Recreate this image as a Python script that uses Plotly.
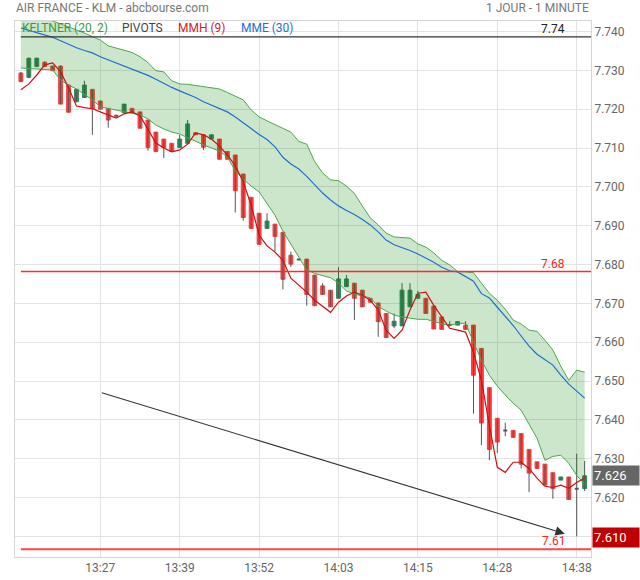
import plotly.graph_objects as go

# ---------------- data ----------------
times = ["13:17","13:18","13:19","13:20","13:21","13:22","13:23","13:24","13:25","13:26",
         "13:27","13:28","13:29","13:30","13:32","13:33","13:34","13:35","13:37","13:38",
         "13:39","13:40","13:41","13:43","13:44","13:45","13:47","13:48","13:50","13:51",
         "13:52","13:53","13:54","13:55","13:56","13:57","13:58","13:59","14:01","14:02",
         "14:03","14:04","14:05","14:06","14:08","14:09","14:10","14:11","14:13","14:14",
         "14:15","14:16","14:17","14:19","14:20","14:21","14:23","14:24","14:26","14:27",
         "14:28","14:29","14:30","14:31","14:32","14:33","14:34","14:35","14:36","14:37",
         "14:38","14:39"]

opens = [7.7293,7.7282,7.7310,7.7321,7.7311,7.7311,7.7262,7.7219,7.7230,7.7251,
         7.7221,7.7202,7.7183,7.7191,7.7202,7.7193,7.7172,7.7141,7.7123,7.7112,
         7.7101,7.7112,7.7139,7.7134,7.7123,7.7123,7.7091,7.7082,7.7033,7.6973,
         7.6932,7.6893,7.6904,7.6883,7.6824,7.6813,7.6814,7.6773,7.6745,7.6734,
         7.6713,7.6743,7.6752,7.6734,7.6713,7.6701,7.6674,7.6642,7.6642,7.6691,
         7.6713,7.6713,7.6693,7.6665,7.6644,7.6644,7.6644,7.6644,7.6584,7.6483,
         7.6404,7.6373,7.6373,7.6365,7.6324,7.6292,7.6286,7.6264,7.6245,7.6253,
         7.6223,7.6223]
highs = [7.7296,7.7333,7.7333,7.7323,7.7312,7.7312,7.7263,7.7251,7.7273,7.7251,
         7.7221,7.7202,7.7183,7.7213,7.7202,7.7193,7.7172,7.7141,7.7123,7.7112,
         7.7134,7.7172,7.7139,7.7134,7.7134,7.7123,7.7091,7.7082,7.7033,7.6973,
         7.6932,7.6932,7.6904,7.6883,7.6833,7.6813,7.6814,7.6773,7.6752,7.6734,
         7.6793,7.6773,7.6752,7.6734,7.6713,7.6701,7.6674,7.6674,7.6752,7.6752,
         7.6732,7.6713,7.6693,7.6665,7.6654,7.6653,7.6654,7.6644,7.6584,7.6483,
         7.6404,7.6393,7.6373,7.6365,7.6324,7.6292,7.6286,7.6264,7.6253,7.6253,
         7.6313,7.6294]
lows = [7.7270,7.7280,7.7308,7.7310,7.7299,7.7213,7.7192,7.7219,7.7230,7.7134,
        7.7200,7.7152,7.7183,7.7191,7.7191,7.7151,7.7093,7.7091,7.7074,7.7091,
        7.7101,7.7112,7.7134,7.7095,7.7123,7.7071,7.7071,7.6934,7.6913,7.6893,
        7.6852,7.6893,7.6833,7.6736,7.6794,7.6813,7.6694,7.6694,7.6723,7.6691,
        7.6713,7.6743,7.6657,7.6691,7.6703,7.6614,7.6612,7.6636,7.6642,7.6691,
        7.6713,7.6674,7.6634,7.6633,7.6640,7.6644,7.6633,7.6416,7.6335,7.6296,
        7.6315,7.6358,7.6355,7.6275,7.6214,7.6275,7.6232,7.6197,7.6245,7.6195,
        7.6100,7.6217]
closes = [7.7271,7.7331,7.7331,7.7310,7.7299,7.7213,7.7192,7.7251,7.7262,7.7201,
          7.7200,7.7172,7.7183,7.7213,7.7191,7.7151,7.7101,7.7091,7.7101,7.7091,
          7.7123,7.7162,7.7134,7.7102,7.7134,7.7071,7.7071,7.6990,7.6921,7.6893,
          7.6852,7.6912,7.6872,7.6762,7.6801,7.6813,7.6723,7.6694,7.6723,7.6691,
          7.6763,7.6763,7.6713,7.6691,7.6703,7.6653,7.6612,7.6654,7.6734,7.6734,
          7.6723,7.6674,7.6634,7.6633,7.6644,7.6653,7.6633,7.6515,7.6392,7.6324,
          7.6343,7.6373,7.6355,7.6286,7.6263,7.6275,7.6232,7.6223,7.6253,7.6195,
          7.6223,7.6256]

keltner_up = [7.7458,7.7451,7.7443,7.7435,7.7427,7.7420,7.7412,7.7404,7.7396,7.7387,
              7.7378,7.7363,7.7357,7.7353,7.7346,7.7335,7.7320,7.7299,7.7296,7.7273,
              7.7265,7.7264,7.7261,7.7259,7.7255,7.7252,7.7243,7.7233,7.7224,7.7198,
              7.7180,7.7170,7.7161,7.7152,7.7141,7.7117,7.7110,7.7065,7.7036,7.7018,
              7.7016,7.7002,7.6983,7.6951,7.6920,7.6902,7.6881,7.6871,7.6869,7.6868,
              7.6853,7.6845,7.6830,7.6811,7.6799,7.6782,7.6781,7.6779,7.6752,7.6726,
              7.6708,7.6685,7.6657,7.6647,7.6631,7.6628,7.6605,7.6580,7.6538,7.6502,
              7.6528,7.6523]
keltner_low = [7.7306,7.7305,7.7304,7.7302,7.7301,7.7275,7.7262,7.7252,7.7237,7.7224,
               7.7206,7.7202,7.7198,7.7194,7.7190,7.7185,7.7175,7.7159,7.7149,7.7141,
               7.7136,7.7126,7.7116,7.7108,7.7100,7.7092,7.7077,7.7041,7.7020,7.7002,
               7.6987,7.6956,7.6927,7.6886,7.6853,7.6822,7.6786,7.6777,7.6772,7.6766,
               7.6752,7.6732,7.6724,7.6719,7.6714,7.6693,7.6680,7.6670,7.6665,7.6662,
               7.6659,7.6659,7.6654,7.6647,7.6644,7.6648,7.6649,7.6600,7.6554,7.6515,
               7.6487,7.6464,7.6443,7.6425,7.6389,7.6353,7.6296,7.6306,7.6309,7.6288,
               7.6257,7.6234]
mme30 = [7.7409,7.7403,7.7396,7.7391,7.7385,7.7376,7.7366,7.7358,7.7351,7.7345,
         7.7335,7.7327,7.7319,7.7311,7.7304,7.7296,7.7287,7.7277,7.7266,7.7256,
         7.7247,7.7239,7.7230,7.7219,7.7211,7.7203,7.7193,7.7180,7.7166,7.7150,
         7.7135,7.7122,7.7103,7.7076,7.7059,7.7046,7.7027,7.7006,7.6984,7.6966,
         7.6951,7.6939,7.6929,7.6916,7.6902,7.6884,7.6863,7.6851,7.6844,7.6836,
         7.6827,7.6817,7.6806,7.6793,7.6784,7.6781,7.6768,7.6757,7.6725,7.6714,
         7.6690,7.6667,7.6643,7.6616,7.6590,7.6569,7.6556,7.6541,7.6515,7.6492,
         7.6474,7.6456]
mmh9 = [7.7250,7.7265,7.7288,7.7314,7.7319,7.7296,7.7255,7.7208,7.7204,7.7201,
        7.7193,7.7185,7.7177,7.7188,7.7193,7.7183,7.7147,7.7113,7.7100,7.7090,
        7.7095,7.7110,7.7139,7.7134,7.7123,7.7105,7.7082,7.7054,7.7013,7.6953,
        7.6876,7.6848,7.6832,7.6811,7.6765,7.6747,7.6729,7.6708,7.6693,7.6677,
        7.6703,7.6719,7.6729,7.6721,7.6708,7.6683,7.6631,7.6610,7.6631,7.6683,
        7.6726,7.6729,7.6695,7.6667,7.6636,7.6631,7.6626,7.6574,7.6502,7.6386,
        7.6278,7.6265,7.6291,7.6291,7.6275,7.6250,7.6229,7.6226,7.6232,7.6224,
        7.6239,7.6250]

pivot_values = [7.7386, 7.6782, 7.6067]
pivot_labels = ["7.74", "7.68", "7.61"]
tick_idx = [10, 20, 30, 40, 50, 60, 70]
price_ticks = [7.61, 7.62, 7.63, 7.64, 7.65, 7.66, 7.67, 7.68, 7.69, 7.70, 7.71, 7.72, 7.73, 7.74]
last_price = 7.6256
last_label = "7.626"
day_low = 7.6098
low_label = "7.610"
trend_idx = [10, 68.5]
trend_price = [7.6471, 7.6107]

# ---------------- figure ----------------
n = len(times)
xs = list(range(n))
GREEN = "#2c8c5a"
RED = "#ff3d3d"
WICK = "#555555"
KGREEN = "#4ea64e"

fig = go.Figure()

wick_x, wick_y = [], []
for i in xs:
    wick_x += [i, i, None]
    wick_y += [lows[i], highs[i], None]
fig.add_trace(go.Scatter(x=wick_x, y=wick_y, mode="lines",
                         line=dict(color=WICK, width=1), hoverinfo="skip"))

body_idx = [i for i in xs if opens[i] != closes[i]]
doji_idx = [i for i in xs if opens[i] == closes[i]]
fig.add_trace(go.Candlestick(
    x=body_idx,
    open=[opens[i] for i in body_idx],
    close=[closes[i] for i in body_idx],
    high=[max(opens[i], closes[i]) for i in body_idx],
    low=[min(opens[i], closes[i]) for i in body_idx],
    increasing=dict(fillcolor=GREEN, line=dict(color=GREEN, width=1)),
    decreasing=dict(fillcolor=RED, line=dict(color=RED, width=1)),
    whiskerwidth=0))
fig.add_trace(go.Candlestick(
    x=doji_idx,
    open=[opens[i] for i in doji_idx],
    close=[closes[i] for i in doji_idx],
    high=[opens[i] for i in doji_idx],
    low=[opens[i] for i in doji_idx],
    increasing=dict(fillcolor=WICK, line=dict(color=WICK, width=2)),
    decreasing=dict(fillcolor=WICK, line=dict(color=WICK, width=2)),
    whiskerwidth=0))

fig.add_trace(go.Scatter(x=xs, y=keltner_up, mode="lines",
                         line=dict(color=KGREEN, width=1)))
fig.add_trace(go.Scatter(x=xs, y=keltner_low, mode="lines",
                         line=dict(color=KGREEN, width=1),
                         fill="tonexty", fillcolor="rgba(0,128,0,0.2)"))
fig.add_trace(go.Scatter(x=xs, y=mme30, mode="lines",
                         line=dict(color="#1f6fd0", width=1.2)))
fig.add_trace(go.Scatter(x=xs, y=mmh9, mode="lines",
                         line=dict(color="#cc1111", width=1.2)))

x_range = [-0.743, 71.8]
y_range = [7.6047, 7.7427]

pivot_colors = ["#333333", "#ff2a2a", "#ff4545"]
pivot_text_colors = ["#222222", "#ff2020", "#ff2020"]
pivot_widths = [1.2, 1.5, 2.2]
shapes = []
annotations = []
for v, lab, col, tcol, w in zip(pivot_values, pivot_labels, pivot_colors,
                                pivot_text_colors, pivot_widths):
    shapes.append(dict(type="line", xref="x", yref="y", x0=0, x1=x_range[1],
                       y0=v, y1=v, line=dict(color=col, width=w), layer="above"))
    annotations.append(dict(xref="paper", yref="y", x=0.958, y=v, text=lab,
                            xanchor="right", yanchor="bottom", showarrow=False,
                            font=dict(color=tcol, size=12), yshift=-1))

# title texts
annotations.append(dict(xref="paper", yref="paper", x=-0.002, y=1.0, yshift=13,
                        text="AIR FRANCE - KLM - abcbourse.com", showarrow=False,
                        xanchor="left", yanchor="middle",
                        font=dict(color="#777777", size=12)))
annotations.append(dict(xref="paper", yref="paper", x=1.0, y=1.0, yshift=13,
                        text="1 JOUR - 1 MINUTE", showarrow=False,
                        xanchor="right", yanchor="middle",
                        font=dict(color="#777777", size=12)))
# indicator legend
leg = [("KELTNER (20, 2)", "#3c9a3c", 20), ("PIVOTS", "#444444", 120),
       ("MMH (9)", "#cc1f1f", 176), ("MME (30)", "#1f6fd0", 239)]
for txt, col, px in leg:
    annotations.append(dict(xref="paper", yref="paper", x=(px - 15) / 576, y=1 - 7.3 / 536,
                            text=txt, showarrow=False, xanchor="left", yanchor="middle",
                            font=dict(color=col, size=12)))

# price boxes
annotations.append(dict(xref="paper", yref="y", x=1.0, y=last_price, xshift=1,
                        text=last_label, showarrow=False, xanchor="left", yanchor="middle",
                        bgcolor="#666666", font=dict(color="white", size=13),
                        width=44, height=17, align="left", borderpad=1))
annotations.append(dict(xref="paper", yref="y", x=1.0, y=day_low, xshift=1,
                        text=low_label, showarrow=False, xanchor="left", yanchor="middle",
                        bgcolor="#c00000", font=dict(color="white", size=13),
                        width=44, height=17, align="left", borderpad=1))

# trend arrow
annotations.append(dict(xref="x", yref="y", axref="x", ayref="y",
                        x=trend_idx[1], y=trend_price[1], ax=trend_idx[0], ay=trend_price[0],
                        text="", showarrow=True, arrowhead=2, arrowsize=1.7,
                        arrowwidth=1.1, arrowcolor="#333333"))

fig.update_layout(
    width=640, height=580,
    margin=dict(l=15, r=49, t=21, b=23, autoexpand=False),
    paper_bgcolor="white", plot_bgcolor="white",
    showlegend=False,
    font=dict(family="Roboto", size=12, color="#666666"),
    shapes=shapes, annotations=annotations,
    xaxis=dict(range=x_range, tickvals=tick_idx, ticktext=[times[i] for i in tick_idx],
               showgrid=True, gridcolor="#e3e3e3", showline=True, linecolor="#d5d5d5",
               mirror=True, ticks="", zeroline=False, rangeslider=dict(visible=False),
               automargin=False, tickfont=dict(color="#666666", size=12)),
    yaxis=dict(range=y_range, side="right", tickvals=price_ticks,
               ticktext=["" if abs(t - day_low) < 0.002 else f"{t:.3f}" for t in price_ticks],
               showgrid=True, gridcolor="#e3e3e3", showline=True, linecolor="#d5d5d5",
               mirror=True, ticks="", zeroline=False, automargin=False,
               tickfont=dict(color="#666666", size=12)),
)

fig.write_html("out.html", config={"displayModeBar": False},
               post_script="document.body.style.margin='0';document.body.style.padding='0';")
